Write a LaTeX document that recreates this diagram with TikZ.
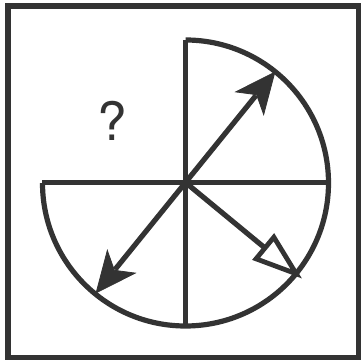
\documentclass[tikz,border=0pt]{standalone}
\usepackage{fontspec}
\setmainfont{TeX Gyre Heros}
\usetikzlibrary{calc}
\definecolor{ink}{HTML}{333333}
\tikzset{
  fig/.style={draw=ink, line width=5.2pt},
  solidhead/.style={fill=ink, draw=ink, line width=0.8pt, line join=miter},
  openhead/.style={fill=white, draw=ink, line width=4.8pt, line join=miter, miter limit=10},
}
\begin{document}
\begin{tikzpicture}[x=1pt,y=1pt]
\useasboundingbox (0,0) rectangle (362,361);
\draw[draw=ink, line width=5.5pt] (8,3.5) rectangle (358.5,355);
\coordinate (O) at (185.5,178.5);
\coordinate (T) at (185.5,321);
\coordinate (B) at (185.5,35);
\coordinate (L) at (42,178.5);
\coordinate (R) at (328.5,178.5);
\draw[fig] (T) arc[start angle=90,end angle=-180,radius=143];
\draw[fig] (T) -- (B);
\draw[fig] (L) -- (R);
% double solid arrow
\coordinate (A1) at ($(O)+(51:142)$);
\coordinate (A2) at ($(O)+(231:142)$);
\coordinate (S1) at ($(O)+(51:112)$);
\coordinate (S2) at ($(O)+(231:112)$);
\draw[fig] (S2) -- (S1);
\path[solidhead, shift={(A1)}, rotate=51] (0,0) -- (-40,18) -- (-29,0) -- (-40,-18) -- cycle;
\path[solidhead, shift={(A2)}, rotate=231] (0,0) -- (-40,18) -- (-29,0) -- (-40,-18) -- cycle;
% open arrow
\coordinate (A3) at ($(O)+(-39.5:143.5)$);
\coordinate (S3) at ($(O)+(-39.5:104)$);
\draw[fig] (O) -- (S3);
\path[openhead, shift={(A3)}, rotate=-39.5] (0,0) -- (-40.5,14) -- (-40.5,-14) -- cycle;
\node[text=ink, font=\fontsize{53}{53}\selectfont] (q) at (112,240) {?};
\end{tikzpicture}
\end{document}
